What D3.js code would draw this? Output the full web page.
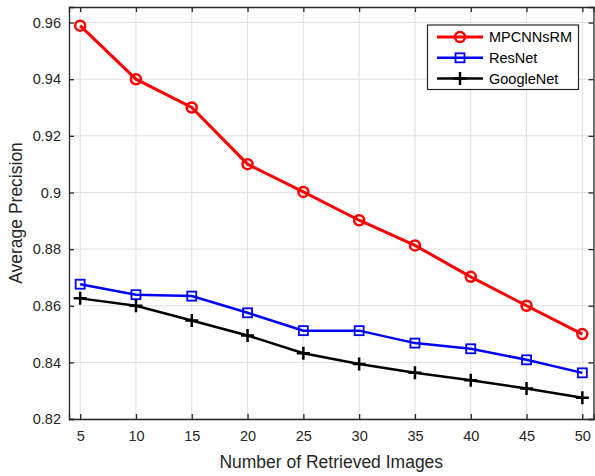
<!DOCTYPE html>
<html>
<head>
<meta charset="utf-8">
<script src="https://cdn.jsdelivr.net/npm/d3@7"></script>
<style>
  body { margin:0; padding:0; background:#fff; }
  svg { font-family: "Liberation Sans", Arial, sans-serif; }
</style>
</head>
<body>
<svg id="chart" width="595" height="476"></svg>
<script>
var xs = [5, 10, 15, 20, 25, 30, 35, 40, 45, 50];
var mpcnn = [0.9589, 0.940, 0.930, 0.910, 0.9002, 0.8902, 0.8813, 0.8702, 0.860, 0.850];
var resnet = [0.8676, 0.8639, 0.8634, 0.8575, 0.8512, 0.8512, 0.8468, 0.8448, 0.8409, 0.8363];
var googlenet = [0.8626, 0.860, 0.8548, 0.8495, 0.8432, 0.8394, 0.8363, 0.8337, 0.8308, 0.8275];
var yTicks = [0.82, 0.84, 0.86, 0.88, 0.9, 0.92, 0.94, 0.96];
var names = ['MPCNNsRM', 'ResNet', 'GoogleNet'];

var series = [
  {name: names[0], vals: mpcnn, color: '#ff0000', marker: 'circle'},
  {name: names[1], vals: resnet, color: '#0000ff', marker: 'square'},
  {name: names[2], vals: googlenet, color: '#000000', marker: 'plus'}
];

var svg = d3.select('#chart');
var L = 69, R = 593.5, T = 7, B = 419;
var x = d3.scaleLinear().domain([4, 51]).range([L, R]);
var y = d3.scaleLinear().domain([0.82, 0.9655]).range([B, T]);
var axisCol = '#262626';

// grid
svg.append('g').selectAll('line.gx').data(xs).enter().append('line')
  .attr('x1', function(d){return x(d)}).attr('x2', function(d){return x(d)})
  .attr('y1', T).attr('y2', B).attr('stroke', '#dfdfdf').attr('stroke-width', 1);
svg.append('g').selectAll('line.gy').data(yTicks).enter().append('line')
  .attr('y1', function(d){return y(d)}).attr('y2', function(d){return y(d)})
  .attr('x1', L).attr('x2', R).attr('stroke', '#dfdfdf').attr('stroke-width', 1);

// axes (ticks inward)
var tk = 5;
svg.append('g').attr('transform', 'translate(0,' + B + ')')
  .call(d3.axisBottom(x).tickValues(xs).tickSize(-tk).tickPadding(12).tickFormat(d3.format('d')));
svg.append('g').attr('transform', 'translate(0,' + T + ')')
  .call(d3.axisTop(x).tickValues(xs).tickSize(-tk).tickFormat(''));
svg.append('g').attr('transform', 'translate(' + L + ',0)')
  .call(d3.axisLeft(y).tickValues(yTicks).tickSize(-tk).tickPadding(8).tickFormat(function(d){return d3.format('')(+d.toFixed(2))}));
svg.append('g').attr('transform', 'translate(' + R + ',0)')
  .call(d3.axisRight(y).tickValues(yTicks).tickSize(-tk).tickFormat(''));

svg.selectAll('.domain').attr('stroke', axisCol).attr('stroke-width', 1.3);
svg.selectAll('.tick line').attr('stroke', axisCol).attr('stroke-width', 1.3);
svg.selectAll('.tick text').attr('fill', axisCol).style('font-size', '14.5px')
  .style('font-family', '"Liberation Sans", Arial, sans-serif');

// lines
var line = d3.line().x(function(d, i){return x(xs[i])}).y(function(d){return y(d)});

function drawMarker(g, type, color, cx, cy) {
  if (type == 'circle') {
    g.append('circle').attr('cx', cx).attr('cy', cy).attr('r', 5)
      .attr('fill', 'none').attr('stroke', color).attr('stroke-width', 2.5);
  } else if (type == 'square') {
    g.append('rect').attr('x', cx - 4.5).attr('y', cy - 4.5).attr('width', 9).attr('height', 9)
      .attr('fill', 'none').attr('stroke', color).attr('stroke-width', 1.8);
  } else {
    g.append('path').attr('d', 'M' + (cx - 6.5) + ',' + cy + 'H' + (cx + 6.5) + 'M' + cx + ',' + (cy - 6.5) + 'V' + (cy + 6.5))
      .attr('stroke', color).attr('stroke-width', 2.5).attr('fill', 'none');
  }
}

series.forEach(function(s) {
  svg.append('path').datum(s.vals).attr('d', line)
    .attr('fill', 'none').attr('stroke', s.color).attr('stroke-width', s.marker == 'circle' ? 3 : 2.5);
  var g = svg.append('g');
  s.vals.forEach(function(v, i){ drawMarker(g, s.marker, s.color, x(xs[i]), y(v)); });
});

// legend
var lg = svg.append('g');
lg.append('rect').attr('x', 427.5).attr('y', 25).attr('width', 151).attr('height', 64.5)
  .attr('fill', '#fff').attr('stroke', axisCol).attr('stroke-width', 1.2);
series.forEach(function(s, i) {
  var ry = 37 + i * 20.8;
  lg.append('line').attr('x1', 437).attr('x2', 483).attr('y1', ry).attr('y2', ry)
    .attr('stroke', s.color).attr('stroke-width', s.marker == 'circle' ? 3 : 2.5);
  drawMarker(lg, s.marker, s.color, 460, ry);
  lg.append('text').attr('x', 489).attr('y', ry).attr('dy', '0.35em')
    .style('font-size', '14.5px').attr('fill', '#000').text(s.name);
});

// axis titles
svg.append('text').attr('x', (L + R) / 2).attr('y', 462).attr('dy', '0.35em')
  .attr('text-anchor', 'middle').style('font-size', '17.5px').attr('fill', axisCol)
  .text('Number of Retrieved Images');
svg.append('text').attr('transform', 'translate(16,' + ((T + B) / 2) + ') rotate(-90)')
  .attr('dy', '0.35em').attr('text-anchor', 'middle').style('font-size', '17.5px').attr('fill', axisCol)
  .text('Average Precision');
</script>
</body>
</html>
